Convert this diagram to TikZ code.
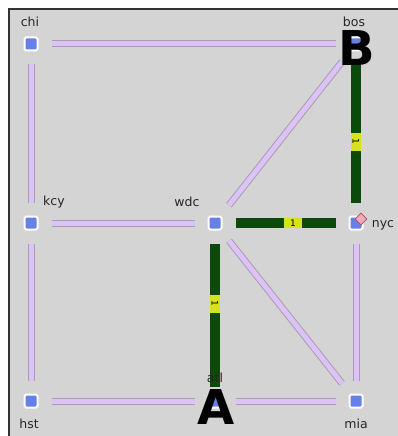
\documentclass[tikz,border=0pt]{standalone}
\usepackage{fontspec}
\usetikzlibrary{shapes.geometric}
\newfontfamily\labfont{DejaVu Sans}
\definecolor{panel}{HTML}{D4D4D4}
\definecolor{frameline}{HTML}{333333}
\definecolor{nodeblue}{HTML}{6680E8}
\definecolor{linkfill}{HTML}{DCC2F6}
\definecolor{linkborder}{HTML}{A89EB0}
\definecolor{pathgreen}{HTML}{0B4A0B}
\definecolor{tagyellow}{HTML}{D6E21A}
\definecolor{flagpink}{HTML}{F4A8B8}
\definecolor{flagborder}{HTML}{A05060}
\begin{document}
\begin{tikzpicture}[x=1pt,y=-1pt,
  router/.style={rectangle, minimum size=13pt, inner sep=0pt, fill=nodeblue, draw=white, line width=2pt, rounded corners=1.5pt},
  link/.style={draw=linkborder, line width=1pt, double=linkfill, double distance=5pt, shorten <=13pt, shorten >=13pt},
  glink/.style={draw=pathgreen, line width=10pt, shorten <=13pt, shorten >=13pt},
  tag/.style={fill=tagyellow, inner sep=0pt, minimum width=18pt, minimum height=10pt, font=\labfont\fontsize{9}{9}\selectfont, text=black},
  lab/.style={font=\labfont\fontsize{12.5}{12.5}\selectfont, text=black!85, inner sep=0pt},
  big/.style={font=\labfont\bfseries\fontsize{48}{48}\selectfont, text=black, inner sep=0pt}
]
\useasboundingbox (0,0) rectangle (398,436);
\fill[white] (0,0) rectangle (398,436);
\fill[panel] (9,9) rectangle (398,436);
\draw[frameline, line width=1.5pt] (9,436) -- (9,9) -- (398,9);

% routers
\node[router] (chi) at (31,44) {};
\node[router] (bos) at (356,44) {};
\node[router] (kcy) at (31,223) {};
\node[router] (wdc) at (215,223) {};
\node[router] (nyc) at (356,223) {};
\node[router] (hst) at (31,401) {};
\node[router] (atl) at (215,401) {};
\node[router] (mia) at (356,401) {};

% plain links
\draw[link] (chi) -- (bos);
\draw[link] (chi) -- (kcy);
\draw[link] (kcy) -- (wdc);
\draw[link] (kcy) -- (hst);
\draw[link] (hst) -- (atl);
\draw[link] (atl) -- (mia);
\draw[link] (nyc) -- (mia);
\draw[link] (wdc) -- (mia);
\draw[link] (wdc) -- (bos);

% path links
\draw[glink] (bos) -- node[tag, pos=0.55, rotate=-90] {1} (nyc);
\draw[glink] (wdc) -- node[tag, pos=0.56] {1} (nyc);
\draw[glink, shorten >=7pt] (wdc) -- node[tag, pos=0.45, rotate=-90] {1} (atl);

% flag on nyc
\node[diamond, fill=flagpink, draw=flagborder, line width=0.6pt, minimum size=12pt, inner sep=0pt] (nycflag) at (361,219) {};

% labels
\node[lab] (chiL) at (30,22) {chi};
\node[lab] (bosL) at (354,22) {bos};
\node[lab] (kcyL) at (54,202) {kcy};
\node[lab] (wdcL) at (187,202) {wdc};
\node[lab] (nycL) at (383,225) {nyc};
\node[lab] (hstL) at (29,424) {hst};
\node[lab] (miaL) at (356,424) {mia};
\node[lab] (atlL) at (215,378) {atl};

% big letters
\node[big] (letterB) at (357,48) {B};
\node[big] (letterA) at (216,407) {A};
\end{tikzpicture}
\end{document}
